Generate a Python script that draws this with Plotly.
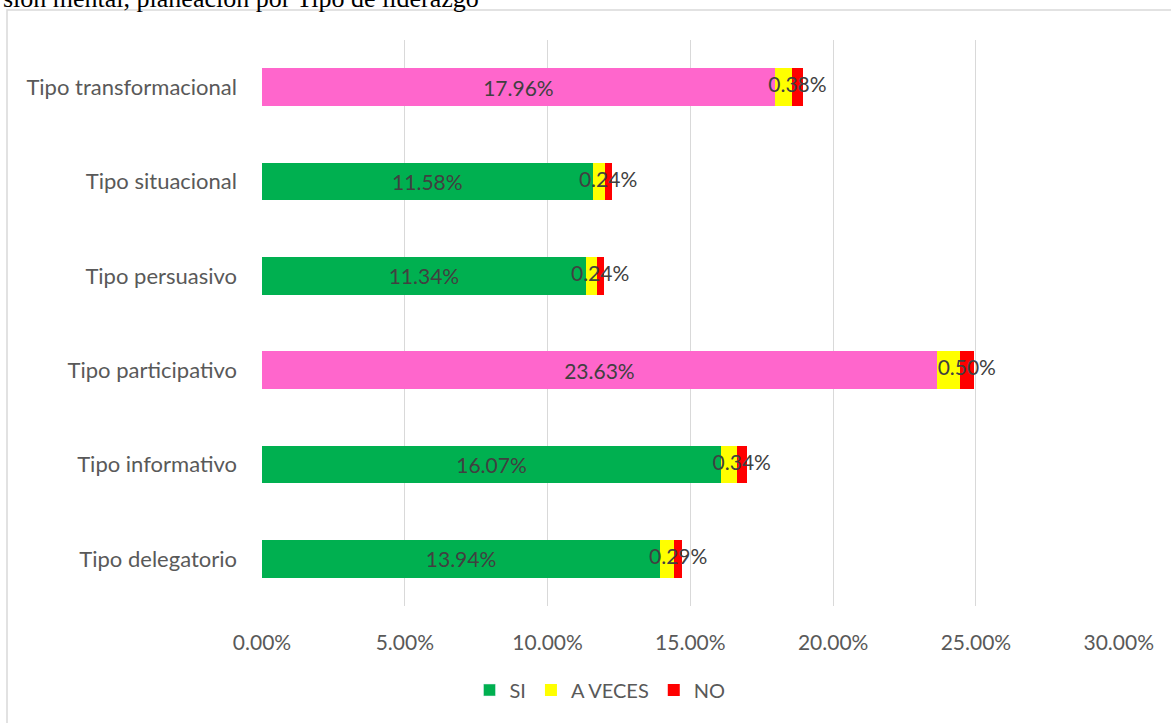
import plotly.graph_objects as go

categories = ["Tipo delegatorio", "Tipo informativo", "Tipo participativo",
              "Tipo persuasivo", "Tipo situacional", "Tipo transformacional"]
si_values = [13.94, 16.07, 23.63, 11.34, 11.58, 17.96]
a_veces_values = [0.49, 0.56, 0.80, 0.38, 0.42, 0.60]
no_values = [0.29, 0.34, 0.50, 0.24, 0.24, 0.38]
x_ticks = [0, 5, 10, 15, 20, 25, 30]

# SI bars: highlighted categories use pink, the rest green
si_colors = ["#FF66CC" if c in ("Tipo participativo", "Tipo transformacional") else "#00B050"
             for c in categories]

W, H = 1171, 723
L, R, T, B = 262, 52, 40, 117
pw, ph = W - L - R, H - T - B


def px_x(p):
    return (p - L) / pw


def px_y(p):
    return (H - B - p) / ph


label_font = dict(family="Lato, Carlito, sans-serif", size=21, color="#404040")

fig = go.Figure()
fig.add_trace(go.Bar(
    y=categories, x=[v / 100 for v in si_values], name="SI", orientation="h",
    marker=dict(color=si_colors, line=dict(width=0)),
    text=[f"{v:.2f}%" for v in si_values], textposition="inside",
    insidetextanchor="middle", textfont=label_font, textangle=0,
    showlegend=False, legendrank=1,
))
fig.add_trace(go.Bar(
    y=categories, x=[v / 100 for v in a_veces_values], name="A VECES", orientation="h",
    marker=dict(color="#FFFF00", line=dict(width=0)), legendrank=2,
))
fig.add_trace(go.Bar(
    y=categories, x=[v / 100 for v in no_values], name="NO", orientation="h",
    marker=dict(color="#FF0000", line=dict(width=0)), legendrank=3,
))

# NO value labels, centred on the red segment
no_centres = [(s + a + n / 2) / 100 for s, a, n in zip(si_values, a_veces_values, no_values)]
fig.add_trace(go.Scatter(
    y=categories, x=no_centres, mode="text",
    text=[f"{v:.2f}%" for v in no_values], textposition="middle center",
    textfont=label_font, showlegend=False, cliponaxis=False,
))

# legend entry for SI shown in green
fig.add_trace(go.Bar(y=[None], x=[None], name="SI", marker=dict(color="#00B050"),
                     orientation="h", legendrank=1))

fig.update_traces(hoverinfo="skip")

fig.update_layout(
    width=W, height=H,
    barmode="stack", bargap=0.6,
    plot_bgcolor="white", paper_bgcolor="white",
    margin=dict(l=L, r=R, t=T, b=B, pad=0),
    font=dict(family="Lato, Carlito, sans-serif", color="#595959"),
    xaxis=dict(range=[0, 0.3001], tickvals=[v / 100 for v in x_ticks],
               ticktext=[f"{v:.2f}%" for v in x_ticks],
               showgrid=True, gridcolor="#D9D9D9", gridwidth=1.3,
               zeroline=False, showline=False, ticks="",
               tickfont=dict(size=21, color="#595959"), ticklabelstandoff=22),
    yaxis=dict(categoryorder="array", categoryarray=categories,
               showgrid=False, showline=False, ticks="",
               tickfont=dict(size=22, color="#595959"), ticklabelstandoff=24),
    legend=dict(orientation="h", x=px_x(600), xanchor="center",
                y=px_y(690), yanchor="middle",
                font=dict(size=20, color="#595959"), traceorder="normal",
                itemwidth=30),
    showlegend=True,
)

# outer chart border
fig.add_shape(type="rect", xref="paper", yref="paper",
              x0=px_x(7), x1=px_x(1200), y0=px_y(740), y1=px_y(10),
              line=dict(color="#D9D9D9", width=1.5), fillcolor="rgba(0,0,0,0)",
              layer="below")

# heading above the chart, partly cut off by the top and left edges
fig.add_annotation(xref="paper", yref="paper", x=px_x(481), y=px_y(15),
                   xanchor="right", yanchor="bottom", showarrow=False,
                   text="sión mental, planeación por Tipo de liderazgo",
                   font=dict(family="Liberation Serif, Times New Roman, serif",
                             size=26, color="#000000"))

fig.write_html("out.html", config={"displayModeBar": False})
